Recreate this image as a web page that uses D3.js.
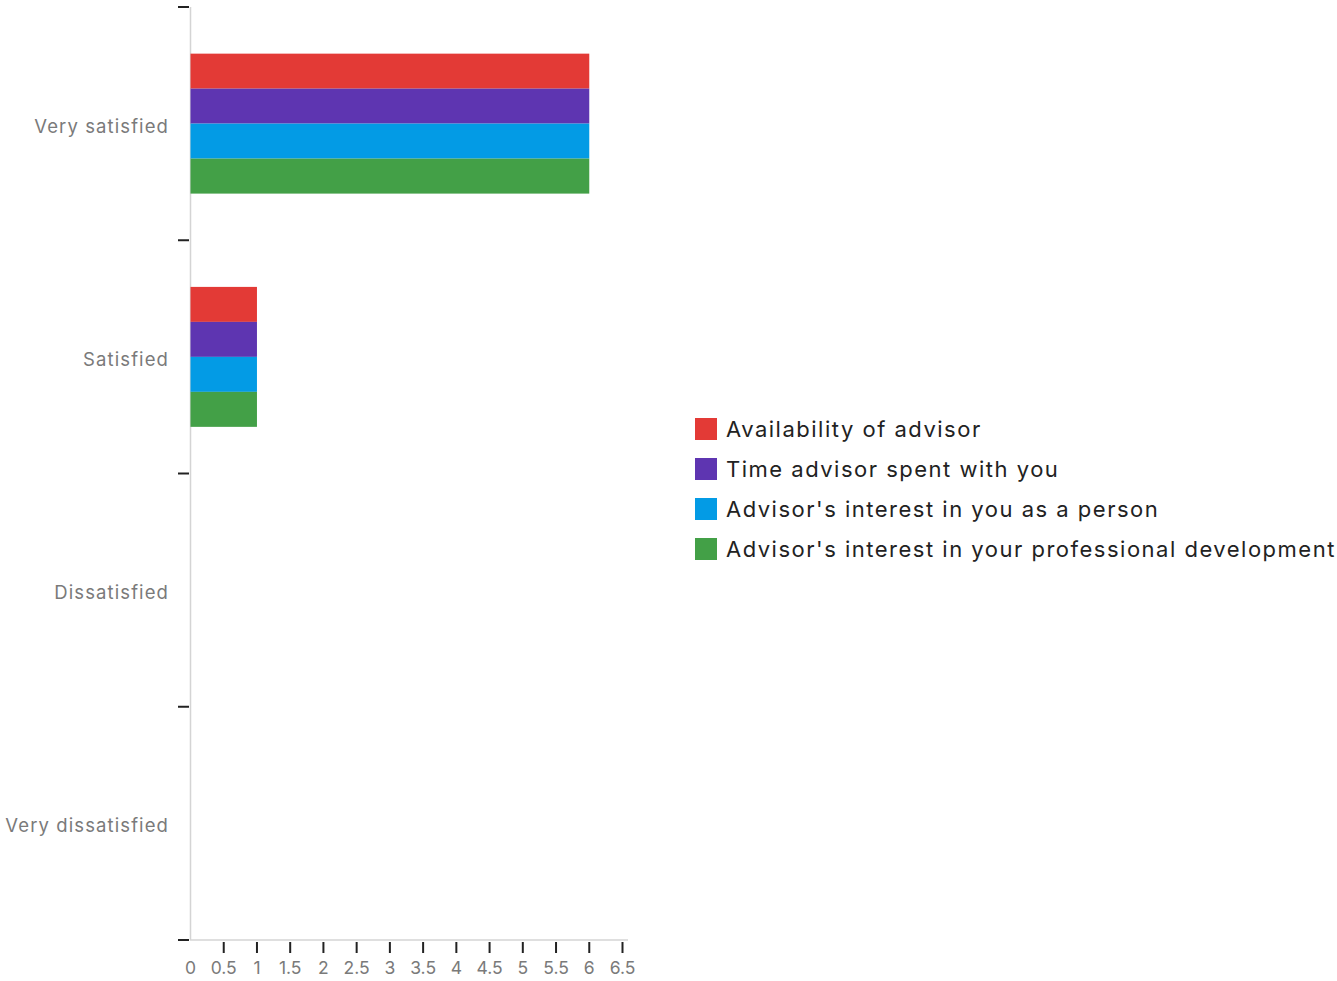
<!DOCTYPE html>
<html>
<head>
<meta charset="utf-8">
<script src="https://cdn.jsdelivr.net/npm/d3@7"></script>
<style>
  html, body { margin: 0; padding: 0; background: #fff; }
  svg { display: block; }
</style>
</head>
<body>
<svg id="chart" width="1337" height="981"></svg>
<script>
// Satisfaction categories (top to bottom)
const categories = ["Very satisfied", "Satisfied", "Dissatisfied", "Very dissatisfied"];

// Series names and colours
const seriesNames = [
  "Availability of advisor",
  "Time advisor spent with you",
  "Advisor's interest in you as a person",
  "Advisor's interest in your professional development"
];
const seriesColors = ["#e33a36", "#5e35b1", "#039be5", "#43a047"];

// Response counts per series, in category order
const availability = [6, 1, 0, 0];
const timeSpent = [6, 1, 0, 0];
const interestPerson = [6, 1, 0, 0];
const interestProfessional = [6, 1, 0, 0];
const seriesValues = [availability, timeSpent, interestPerson, interestProfessional];

// X tick values
const xTicks = [0, 0.5, 1, 1.5, 2, 2.5, 3, 3.5, 4, 4.5, 5, 5.5, 6, 6.5];

const svg = d3.select("#chart");
const fontFamily = "Inter, Roboto, 'Noto Sans', sans-serif";

const x = d3.scaleLinear().domain([0, 6.5]).range([190.5, 622.5]);
const y = d3.scaleBand().domain(categories).range([7, 940])
  .paddingInner(0.4).paddingOuter(0.2);
const ySub = d3.scaleBand().domain(d3.range(seriesNames.length)).range([0, y.bandwidth()]);

// Category boundary ticks on the y axis
const boundaries = d3.range(categories.length + 1).map(i => 7 + i * y.step());
svg.append("line")
  .attr("x1", 190.5).attr("x2", 190.5).attr("y1", 7).attr("y2", 940)
  .attr("stroke", "#d4d4d4").attr("stroke-width", 1.5);
svg.selectAll(".ytick").data(boundaries).join("line")
  .attr("x1", 178).attr("x2", 189).attr("y1", d => d).attr("y2", d => d)
  .attr("stroke", "#222").attr("stroke-width", 2);

// Category labels
svg.selectAll(".ylabel").data(categories).join("text")
  .attr("x", 169)
  .attr("y", d => y(d) + y.bandwidth() / 2 + 4)
  .attr("text-anchor", "end").attr("dominant-baseline", "middle")
  .attr("font-family", fontFamily).attr("font-size", 18.5)
  .attr("letter-spacing", 1.1)
  .attr("fill", "#7a7a7a")
  .text(d => d);

// X axis
svg.append("line")
  .attr("x1", 190).attr("x2", 628).attr("y1", 940).attr("y2", 940)
  .attr("stroke", "#d4d4d4").attr("stroke-width", 1.5);
svg.selectAll(".xtick").data(xTicks.filter(d => d > 0)).join("line")
  .attr("x1", d => x(d)).attr("x2", d => x(d)).attr("y1", 942).attr("y2", 953)
  .attr("stroke", "#222").attr("stroke-width", 2);
svg.selectAll(".xlabel").data(xTicks).join("text")
  .attr("x", d => x(d)).attr("y", 969)
  .attr("text-anchor", "middle").attr("dominant-baseline", "middle")
  .attr("font-family", fontFamily).attr("font-size", 17.5)
  .attr("fill", "#7a7a7a")
  .text(d => d);

// Bars
seriesValues.forEach((vals, si) => {
  svg.append("g").selectAll("rect").data(categories.map((c, i) => ({ c, v: vals[i] })))
    .join("rect")
    .attr("x", x(0))
    .attr("y", d => y(d.c) + ySub(si))
    .attr("width", d => x(d.v) - x(0))
    .attr("height", ySub.bandwidth())
    .attr("fill", seriesColors[si]);
});

// Legend
const legend = svg.append("g");
seriesNames.forEach((name, i) => {
  const cy = 429 + i * 40;
  legend.append("rect")
    .attr("x", 695).attr("y", cy - 11).attr("width", 22).attr("height", 22)
    .attr("fill", seriesColors[i]);
  legend.append("text")
    .attr("x", 726).attr("y", cy + 2)
    .attr("dominant-baseline", "middle")
    .attr("font-family", fontFamily).attr("font-size", 22)
    .attr("letter-spacing", 1.5)
    .attr("fill", "#222")
    .text(name);
});
</script>
</body>
</html>
